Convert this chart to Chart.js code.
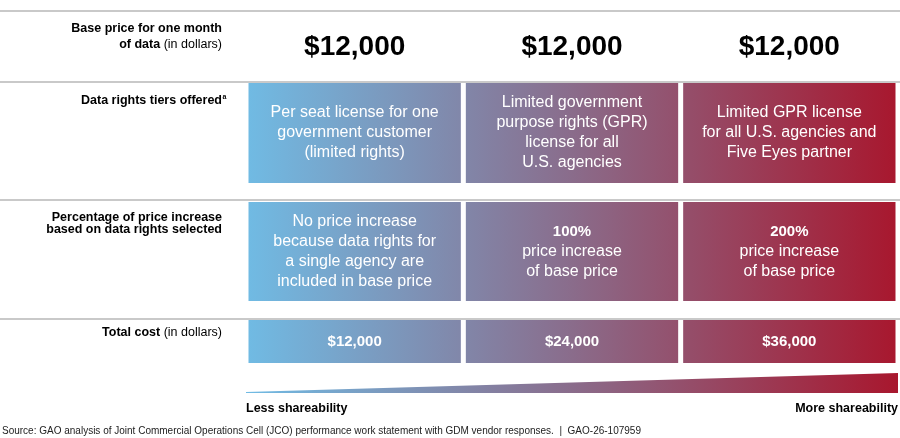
<!DOCTYPE html>
<html>
<head>
<meta charset="utf-8">
<script src="https://cdn.jsdelivr.net/npm/chart.js@4.4.1/dist/chart.umd.min.js"></script>
<style>
  html, body { margin: 0; padding: 0; background: #fff; }
  #wrap { width: 900px; height: 438px; position: relative; }
</style>
</head>
<body>
<div id="wrap"><canvas id="tiers"></canvas></div>
<script>
// Data
const tiers = ['Limited rights', 'Limited GPR (U.S.)', 'Limited GPR (U.S. + Five Eyes)'];
const basePrices = [12000, 12000, 12000];
const increasePct = [0, 100, 200];
const totalCost = [12000, 24000, 36000];
const tierText = [
    ['Per seat license for one', 'government customer', '(limited rights)'],
    ['Limited government', 'purpose rights (GPR)', 'license for all', 'U.S. agencies'],
    ['Limited GPR license', 'for all U.S. agencies and', 'Five Eyes partner']
];
const increaseText = [
    ['No price increase', 'because data rights for', 'a single agency are', 'included in base price'],
    ['price increase', 'of base price'],
    ['price increase', 'of base price']
];

// Layout (pixel rows on the reversed y scale)
const rowSpans = [[83, 183], [202, 301], [320, 363]];
const ruleY = [11, 82, 200, 319];
const FONT = '"Liberation Sans", Arial, sans-serif';

function money(v) {
    return '$' + v.toLocaleString('en-US');
}

function shareGradient(chart) {
    const area = chart.chartArea;
    const g = chart.ctx.createLinearGradient(area.left, 0, area.right, 0);
    g.addColorStop(0, '#70bbe4');
    g.addColorStop(0.5, '#8a6c8b');
    g.addColorStop(1, '#a8172e');
    return g;
}

const datasets = rowSpans.map((span, i) => ({
    label: 'row' + i,
    data: tiers.map(() => span),
    backgroundColor: function(context) {
        if (!context.chart.chartArea) return '#8a6c8b';
        return shareGradient(context.chart);
    },
    borderWidth: 0,
    grouped: false,
    barPercentage: 1,
    categoryPercentage: 0.977
}));

function drawMixed(ctx, parts, rightX, y) {
    // parts: [[text, bold], ...] right-aligned
    let total = 0;
    parts.forEach(p => {
        ctx.font = (p[1] ? 'bold ' : '') + '12.5px ' + FONT;
        total += ctx.measureText(p[0]).width;
    });
    let x = rightX - total;
    ctx.textAlign = 'left';
    parts.forEach(p => {
        ctx.font = (p[1] ? 'bold ' : '') + '12.5px ' + FONT;
        ctx.fillText(p[0], x, y);
        x += ctx.measureText(p[0]).width;
    });
}

const textPlugin = {
    id: 'textPlugin',
    beforeDatasetsDraw(chart) {
        const ctx = chart.ctx;
        ctx.save();
        ctx.strokeStyle = '#b7b7b7';
        ctx.lineWidth = 1.5;
        ruleY.forEach(y => {
            ctx.beginPath();
            ctx.moveTo(0, y);
            ctx.lineTo(chart.width, y);
            ctx.stroke();
        });
        ctx.restore();
    },
    afterDatasetsDraw(chart) {
        const ctx = chart.ctx;
        const area = chart.chartArea;
        ctx.save();
        ctx.textBaseline = 'middle';
        ctx.fillStyle = '#000';

        // left row labels
        const lx = 222;
        drawMixed(ctx, [['Base price for one month', true]], lx, 29);
        drawMixed(ctx, [['of data', true], [' (in dollars)', false]], lx, 45);
        drawMixed(ctx, [['Data rights tiers offered', true]], lx, 101);
        ctx.font = 'bold 7px ' + FONT;
        ctx.fillText('a', lx + 0.5, 97);
        drawMixed(ctx, [['Percentage of price increase', true]], lx, 218);
        drawMixed(ctx, [['based on data rights selected', true]], lx, 230);
        drawMixed(ctx, [['Total cost', true], [' (in dollars)', false]], lx, 333);

        const bars = chart.getDatasetMeta(0).data;
        bars.forEach((bar, i) => {
            const cx = bar.x;
            // base price
            ctx.fillStyle = '#000';
            ctx.textAlign = 'center';
            ctx.font = 'bold 28px ' + FONT;
            ctx.fillText(money(basePrices[i]), cx, 47);

            ctx.fillStyle = '#fff';
            // tier description
            const t = tierText[i];
            const r1 = chart.getDatasetMeta(0).data[i];
            let mid = (r1.y + r1.base) / 2;
            ctx.font = '16px ' + FONT;
            t.forEach((line, k) => {
                ctx.fillText(line, cx, mid + (k - (t.length - 1) / 2) * 20);
            });

            // price increase
            const r2 = chart.getDatasetMeta(1).data[i];
            mid = (r2.y + r2.base) / 2;
            const lines = increaseText[i].slice();
            const n = lines.length + (increasePct[i] > 0 ? 1 : 0);
            let k = 0;
            if (increasePct[i] > 0) {
                ctx.font = 'bold 15px ' + FONT;
                ctx.fillText(increasePct[i] + '%', cx, mid + (k - (n - 1) / 2) * 20);
                k++;
            }
            ctx.font = '16px ' + FONT;
            lines.forEach(line => {
                ctx.fillText(line, cx, mid + (k - (n - 1) / 2) * 20);
                k++;
            });

            // total cost
            const r3 = chart.getDatasetMeta(2).data[i];
            ctx.font = 'bold 15px ' + FONT;
            ctx.fillText(money(totalCost[i]), cx, (r3.y + r3.base) / 2);
        });

        // shareability wedge
        ctx.fillStyle = shareGradient(chart);
        ctx.beginPath();
        ctx.moveTo(area.left, 392);
        ctx.lineTo(area.right, 373);
        ctx.lineTo(area.right, 393);
        ctx.lineTo(area.left, 393);
        ctx.closePath();
        ctx.fill();

        ctx.fillStyle = '#000';
        ctx.font = 'bold 12.5px ' + FONT;
        ctx.textAlign = 'left';
        ctx.fillText('Less shareability', area.left, 409);
        ctx.textAlign = 'right';
        ctx.fillText('More shareability', area.right, 409);

        ctx.font = '10px ' + FONT;
        ctx.textAlign = 'left';
        ctx.fillStyle = '#222';
        ctx.fillText('Source: GAO analysis of Joint Commercial Operations Cell (JCO) performance work statement with GDM vendor responses.  |  GAO-26-107959', 2, 431);
        ctx.restore();
    }
};

new Chart(document.getElementById('tiers'), {
    type: 'bar',
    data: { labels: tiers, datasets: datasets },
    options: {
        responsive: true,
        maintainAspectRatio: false,
        animation: false,
        layout: { padding: { left: 246, right: 2, top: 0, bottom: 0 } },
        plugins: { legend: { display: false }, tooltip: { enabled: false } },
        scales: {
            x: { display: false, offset: true },
            y: { display: false, min: 0, max: 438, reverse: true }
        }
    },
    plugins: [textPlugin]
});
</script>
</body>
</html>
